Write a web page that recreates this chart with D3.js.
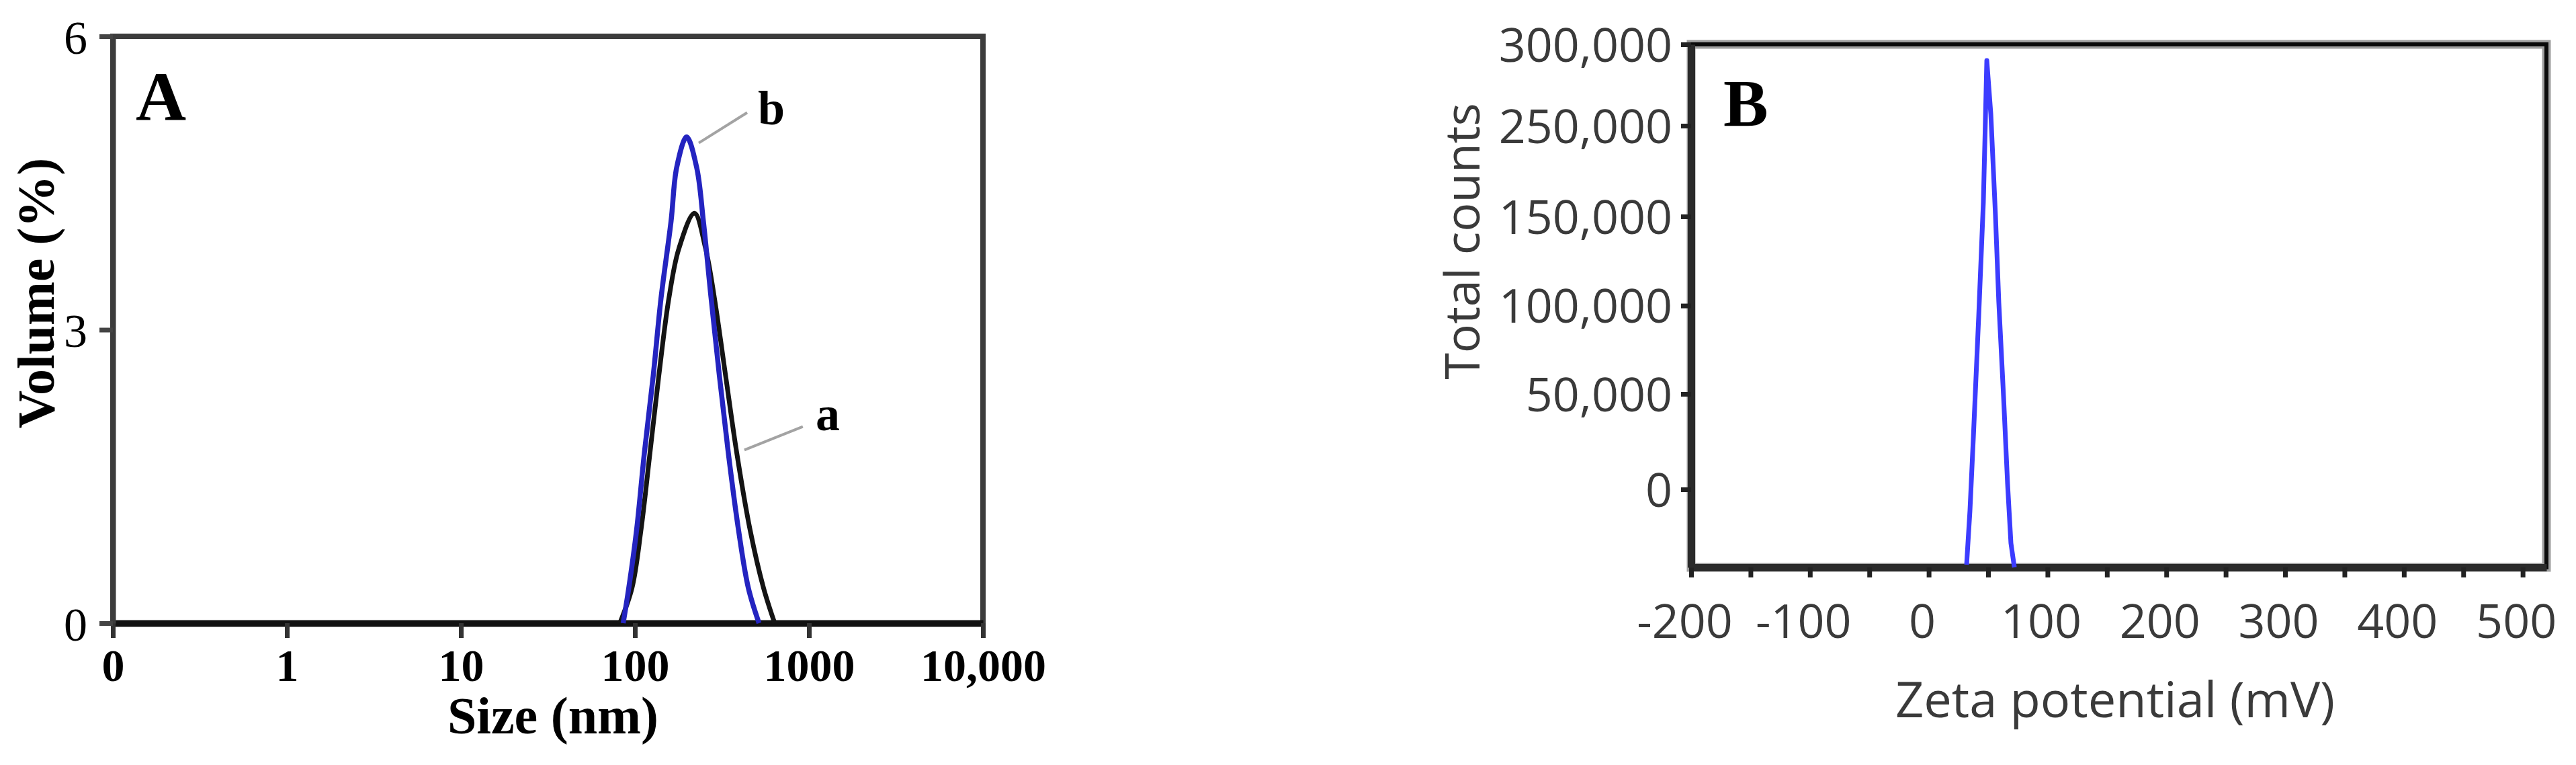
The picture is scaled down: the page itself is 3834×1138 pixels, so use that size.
<!DOCTYPE html>
<html>
<head>
<meta charset="utf-8">
<script src="https://cdn.jsdelivr.net/npm/d3@7"></script>
<style>
  html, body { margin: 0; padding: 0; background: #ffffff; }
  svg { display: block; }
</style>
</head>
<body>
<svg id="chart" width="3834" height="1138"></svg>
<script>
// ---------------- Panel A : size distribution ----------------
const sizeTickValues = [0.1, 1, 10, 100, 1000, 10000];
const sizeTickLabels = ["0", "1", "10", "100", "1000", "10,000"];
const volumeTickValues = [0, 3, 6];
const volumeTickLabels = ["0", "3", "6"];

// curve a (black)
const sizeA   = [81.9, 96.2, 108.3, 122.0, 137.2, 156.7, 178.9, 219.9, 254.8, 286.5, 332.0, 384.8, 459.3, 548.3, 635.5];
const volumeA = [0, 0.36, 0.95, 1.74, 2.53, 3.32, 3.83, 4.19, 3.83, 3.32, 2.53, 1.74, 0.95, 0.36, 0];
// curve b (blue)
const sizeB   = [85.6, 92.2, 102.2, 113.3, 127.4, 141.2, 161.3, 173.8, 198.3, 226.3, 247.3, 274.1, 305.7, 344.1, 394.0, 448.5, 516.6];
const volumeB = [0, 0.36, 0.95, 1.74, 2.53, 3.32, 4.11, 4.66, 4.97, 4.66, 4.11, 3.32, 2.53, 1.74, 0.95, 0.36, 0];

// annotation labels and leader lines (data space)
const annotationNames  = ["b", "a"];
const leaderFromSize   = [232.8, 425.6];
const leaderFromVolume = [4.91, 1.77];
const leaderToSize     = [441.6, 922];
const leaderToVolume   = [5.22, 2.01];
const labelSize        = [608, 1282];
const labelVolume      = [5.10, 1.97];

// ---------------- Panel B : zeta potential ----------------
const zetaTickValues = [-200, -150, -100, -50, 0, 50, 100, 150, 200, 250, 300, 350, 400, 450, 500];
const zetaTickLabels = ["-200", "", "-100", "", "0", "", "100", "", "200", "", "300", "", "400", "", "500"];
const countTickValues = [0, 50000, 100000, 150000, 250000, 300000];
const countTickLabels = ["0", "50,000", "100,000", "150,000", "250,000", "300,000"];

const zetaValues  = [31.9, 34.7, 37.6, 42.1, 46.0, 47.7, 48.9, 52.3, 56.2, 59.0, 63.0, 66.4, 69.2, 72.1];
const countValues = [-39600, -11300, 27500, 94300, 165700, 252900, 290100, 257000, 150700, 101900, 48600, 2800, -28300, -41000];

// ================= drawing =================
const svg = d3.select("#chart");
const serif = "'Liberation Serif', 'Times New Roman', serif";
const sans  = "'Open Sans', 'Noto Sans', 'DejaVu Sans', sans-serif";

// ---------- Panel A ----------
const A = { left: 168, right: 1463, top: 54, bottom: 927 };
const xA = d3.scaleLog().domain([0.1, 10000]).range([A.left, A.right]);
const yA = d3.scaleLinear().domain([0, 6]).range([A.bottom, A.top]);
const gA = svg.append("g");

// frame
gA.append("rect")
  .attr("x", A.left).attr("y", A.top)
  .attr("width", A.right - A.left).attr("height", A.bottom - A.top)
  .attr("fill", "none").attr("stroke", "#3c3c3c").attr("stroke-width", 8);

// x axis
const gxA = gA.append("g")
  .attr("transform", `translate(0,${A.bottom})`)
  .call(d3.axisBottom(xA).tickValues(sizeTickValues)
        .tickFormat((d, i) => sizeTickLabels[i])
        .tickSize(22).tickSizeOuter(0));
gxA.select(".domain").attr("stroke", "#111").attr("stroke-width", 10);
gxA.selectAll(".tick line").attr("stroke", "#333").attr("stroke-width", 7);
gxA.selectAll(".tick text")
  .attr("y", 86).attr("dy", null)
  .attr("font-family", serif).attr("font-weight", "bold")
  .attr("font-size", 68).attr("fill", "#000");

// y axis
const gyA = gA.append("g")
  .attr("transform", `translate(${A.left},0)`)
  .call(d3.axisLeft(yA).tickValues(volumeTickValues)
        .tickFormat((d, i) => volumeTickLabels[i])
        .tickSize(20).tickSizeOuter(0).tickPadding(18));
gyA.select(".domain").attr("stroke", "#3c3c3c").attr("stroke-width", 8);
gyA.selectAll(".tick line").attr("stroke", "#444").attr("stroke-width", 7);
gyA.selectAll(".tick text")
  .attr("font-family", serif).attr("font-size", 70).attr("fill", "#000")
  .attr("dy", "0.36em");

// curves
const lineA = d3.line()
  .x(d => xA(d.s)).y(d => yA(d.v))
  .curve(d3.curveCatmullRom.alpha(0.5));
const dataA = sizeA.map((s, i) => ({ s, v: volumeA[i] }));
const dataB = sizeB.map((s, i) => ({ s, v: volumeB[i] }));

gA.append("path").datum(dataA).attr("d", lineA)
  .attr("fill", "none").attr("stroke", "#141414").attr("stroke-width", 7)
  .attr("stroke-linejoin", "round");
gA.append("path").datum(dataB).attr("d", lineA)
  .attr("fill", "none").attr("stroke", "#2424c0").attr("stroke-width", 7.5)
  .attr("stroke-linejoin", "round");

// leader lines + labels
annotationNames.forEach((name, i) => {
  gA.append("line")
    .attr("x1", xA(leaderFromSize[i])).attr("y1", yA(leaderFromVolume[i]))
    .attr("x2", xA(leaderToSize[i])).attr("y2", yA(leaderToVolume[i]))
    .attr("stroke", "#a3a3a3").attr("stroke-width", 4);
  gA.append("text")
    .attr("x", xA(labelSize[i])).attr("y", yA(labelVolume[i]))
    .attr("text-anchor", "middle")
    .attr("font-family", serif).attr("font-weight", "bold")
    .attr("font-size", 72).attr("fill", "#000")
    .text(name);
});

// panel letter & axis titles
gA.append("text").attr("x", 202).attr("y", 179)
  .attr("font-family", serif).attr("font-weight", "bold").attr("font-size", 104)
  .text("A");
gA.append("text").attr("x", 823).attr("y", 1091).attr("text-anchor", "middle")
  .attr("font-family", serif).attr("font-weight", "bold").attr("font-size", 78)
  .text("Size (nm)");
gA.append("text").attr("transform", "translate(80,436) rotate(-90)")
  .attr("text-anchor", "middle")
  .attr("font-family", serif).attr("font-weight", "bold").attr("font-size", 78)
  .text("Volume (%)");

// ---------- Panel B ----------
const B = { left: 2517, right: 3790, top: 66, bottom: 844 };
const xB = d3.scaleLinear().domain([-200, 520]).range([B.left, B.right]);
const countStops = [1, 0.8509, 0.6684, 0.4995, 0.3290, 0.1555, 0];
const yB = d3.scaleLinear()
  .domain([-41000, 0, 50000, 100000, 150000, 250000, 300000])
  .range(countStops.map(f => B.top + f * (B.bottom - B.top)));
const gB = svg.append("g");

gB.append("rect")
  .attr("x", B.left).attr("y", B.top)
  .attr("width", B.right - B.left).attr("height", B.bottom - B.top)
  .attr("fill", "none").attr("stroke", "#a0a0a0").attr("stroke-width", 13);
gB.append("rect")
  .attr("x", B.left).attr("y", B.top)
  .attr("width", B.right - B.left).attr("height", B.bottom - B.top)
  .attr("fill", "none").attr("stroke", "#0a0a0a").attr("stroke-width", 6);

const gxB = gB.append("g")
  .attr("transform", `translate(0,${B.bottom})`)
  .call(d3.axisBottom(xB).tickValues(zetaTickValues)
        .tickFormat((d, i) => zetaTickLabels[i])
        .tickSize(15).tickSizeOuter(0));
gxB.select(".domain").attr("stroke", "#2a2a2a").attr("stroke-width", 11);
gxB.selectAll(".tick line").attr("stroke", "#222").attr("stroke-width", 7);
gxB.selectAll(".tick text")
  .attr("y", 105).attr("dy", null).attr("dx", -10)
  .attr("font-family", sans).attr("font-size", 70).attr("fill", "#3a3a3a");

const gyB = gB.append("g")
  .attr("transform", `translate(${B.left},0)`)
  .call(d3.axisLeft(yB).tickValues(countTickValues)
        .tickFormat((d, i) => countTickLabels[i])
        .tickSize(15).tickSizeOuter(0).tickPadding(13));
gyB.select(".domain").attr("stroke", "#2a2a2a").attr("stroke-width", 11);
gyB.selectAll(".tick line").attr("stroke", "#222").attr("stroke-width", 7);
gyB.selectAll(".tick text")
  .attr("dy", "0.36em")
  .attr("font-family", sans).attr("font-size", 70).attr("fill", "#3a3a3a");

const lineB = d3.line().x(d => xB(d.z)).y(d => yB(d.c));
const zetaData = zetaValues.map((z, i) => ({ z, c: countValues[i] }));
gB.append("path").datum(zetaData).attr("d", lineB)
  .attr("fill", "none").attr("stroke", "#3c3cff").attr("stroke-width", 7)
  .attr("stroke-linejoin", "round");

gB.append("text").attr("x", 2565).attr("y", 187)
  .attr("font-family", serif).attr("font-weight", "bold").attr("font-size", 100)
  .text("B");
gB.append("text").attr("x", 3148).attr("y", 1067).attr("text-anchor", "middle")
  .attr("font-family", sans).attr("font-size", 74).attr("fill", "#3a3a3a")
  .text("Zeta potential (mV)");
gB.append("text").attr("transform", "translate(2202,359) rotate(-90)")
  .attr("text-anchor", "middle")
  .attr("font-family", sans).attr("font-size", 72).attr("fill", "#3a3a3a")
  .text("Total counts");
</script>
</body>
</html>
